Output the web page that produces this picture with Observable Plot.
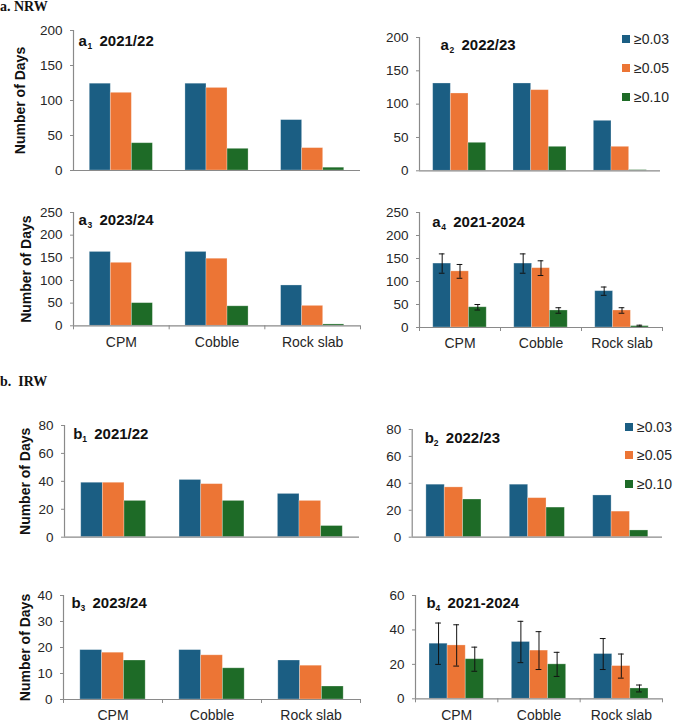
<!DOCTYPE html>
<html>
<head>
<meta charset="utf-8">
<script src="https://cdn.jsdelivr.net/npm/d3@7"></script>
<script src="https://cdn.jsdelivr.net/npm/@observablehq/plot@0.6"></script>
<style>
  body { margin: 0; background: #fff; }
  #fig { position: relative; width: 673px; height: 722px; overflow: hidden;
         font-family: "Liberation Sans", Arial, sans-serif; color: #262626; }
  .panel { position: absolute; }
  .section { position: absolute; left: 0; font-family: "Liberation Serif", "Times New Roman", serif;
             font-weight: bold; font-size: 14px; line-height: 14px; white-space: pre; color: #111; }
  .legend { position: absolute; font-size: 14px; }
  .legend .row { position: absolute; left: 0; height: 16px; white-space: nowrap; }
  .legend .sw { position: absolute; left: 0; top: 4px; width: 8px; height: 8px; }
  .legend .lab { position: absolute; left: 12px; top: 0; line-height: 16px; }
</style>
</head>
<body>
<div id="fig"></div>
<script>
// Substrate categories and wetness thresholds
const sites = ["CPM", "Cobble", "Rock slab"];
const thresholds = ["≥0.03", "≥0.05", "≥0.10"];
const colors = ["#1b5e83", "#ec7535", "#1e6b27"];

// NRW: number of days per site (rows) and threshold (columns)
const nrw2122 = [[124, 111, 39], [124, 118, 31], [72, 32, 4]];
const nrw2223 = [[131, 116, 42], [131, 121, 36], [75, 36, 1]];
const nrw2324 = [[163, 139, 50], [163, 148, 43], [89, 44, 3]];
const nrwMean = [[139, 122, 44], [139, 129, 37], [79, 37, 3]];
const nrwSd   = [[21, 15, 6], [21, 16, 6], [9, 6, 2]];

// IRW: number of days per site (rows) and threshold (columns)
const irw2122 = [[39, 39, 26], [41, 38, 26], [31, 26, 8]];
const irw2223 = [[39, 37, 28], [39, 29, 22], [31, 19, 5]];
const irw2324 = [[19, 18, 15], [19, 17, 12], [15, 13, 5]];
const irwMean = [[32, 31, 23], [33, 28, 20], [26, 19, 6]];
const irwSd   = [[12, 12, 7], [12, 11, 7], [9, 7, 2]];

// Y tick values per panel
const ticksA12 = [0, 50, 100, 150, 200];
const ticksA34 = [0, 50, 100, 150, 200, 250];
const ticksB12 = [0, 20, 40, 60, 80];
const ticksB3  = [0, 10, 20, 30, 40];
const ticksB4  = [0, 20, 40, 60];

// Panel labels
const panelLetters = ["a", "a", "a", "a", "b", "b", "b", "b"];
const panelNumbers = ["1", "2", "3", "4", "1", "2", "3", "4"];
const panelPeriods = ["2021/22", "2022/23", "2023/24", "2021-2024", "2021/22", "2022/23", "2023/24", "2021-2024"];
const sectionTitles = ["a. NRW", "b.  IRW"];
const yTitle = "Number of Days";

const AXIS = "#8a8a8a";
const BAR = 0.22;   // bar width in category units
const CAP = 0.035;  // half-width of error-bar caps in category units

const fig = document.getElementById("fig");

function rowsOf(values, sd) {
  const rows = [];
  values.forEach((r, ci) => r.forEach((v, ti) => rows.push({
    site: sites[ci], ci, thr: thresholds[ti], ti, value: v, sd: sd ? sd[ci][ti] : null
  })));
  return rows;
}

// layout of each panel: frame edges in page pixels and text offsets
const layout = [
  {L: 73,    R: 360, T: 30,    B: 170,   col: 0, bottom: false, ticks: ticksA12, tdx: 5,    tdy: 15,   ldx: -53},
  {L: 419,   R: 660, T: 36.7,  B: 170,   col: 1, bottom: false, ticks: ticksA12, tdx: 21,   tdy: 12.6},
  {L: 73,    R: 360, T: 211.7, B: 325,   col: 0, bottom: true,  ticks: ticksA34, tdx: 5,    tdy: 12.6, ldx: -47},
  {L: 419,   R: 662, T: 211.7, B: 326.7, col: 1, bottom: true,  ticks: ticksA34, tdx: 12.7, tdy: 14},
  {L: 64,    R: 359, T: 425,   B: 536.7, col: 0, bottom: false, ticks: ticksB12, tdx: 8.7,  tdy: 13.3, ldx: -39},
  {L: 411.7, R: 662, T: 429,   B: 536.7, col: 1, bottom: false, ticks: ticksB12, tdx: 12.6, tdy: 13.3},
  {L: 63,    R: 360, T: 595,   B: 699,   col: 0, bottom: true,  ticks: ticksB3,  tdx: 8,    tdy: 12.3, ldx: -38},
  {L: 415,   R: 662, T: 595,   B: 698.3, col: 1, bottom: true,  ticks: ticksB4,  tdx: 11,   tdy: 12.3}
];
const panelValues = [nrw2122, nrw2223, nrw2324, nrwMean, irw2122, irw2223, irw2324, irwMean];
const panelSd = [null, null, null, nrwSd, null, null, null, irwSd];

function drawPanel(i) {
  const p = layout[i];
  const rows = rowsOf(panelValues[i], panelSd[i]);
  const center = d => d.ci + 0.5 + (d.ti - 1) * BAR;
  const left = p.col === 0 ? 0 : 362;
  const mt = 10, mb = p.bottom ? 30 : 8, mr = 6;
  const ml = p.L - left;
  const width = p.R - left + mr;
  const height = p.B - p.T + mt + mb;

  const marks = [
    Plot.rect(rows, {
      x1: d => center(d) - BAR / 2, x2: d => center(d) + BAR / 2,
      y1: 0, y2: "value", fill: "thr",
      stroke: "#ffffff", strokeOpacity: 0.35, strokeWidth: 0.8
    })
  ];
  if (panelSd[i]) {
    marks.push(
      Plot.ruleX(rows, {x: center, y1: d => d.value - d.sd, y2: d => d.value + d.sd, stroke: "#111", strokeWidth: 1}),
      Plot.ruleY(rows, {y: d => d.value - d.sd, x1: d => center(d) - CAP, x2: d => center(d) + CAP, stroke: "#111", strokeWidth: 1}),
      Plot.ruleY(rows, {y: d => d.value + d.sd, x1: d => center(d) - CAP, x2: d => center(d) + CAP, stroke: "#111", strokeWidth: 1})
    );
  }
  marks.push(
    Plot.ruleY([0], {stroke: AXIS, strokeWidth: 1.2}),
    Plot.ruleX([0], {stroke: AXIS, strokeWidth: 1.2}),
    Plot.axisY({ticks: p.ticks, tickSize: 3, tickPadding: 8, stroke: AXIS, label: null, fontSize: 13.5})
  );
  if (p.bottom) {
    marks.push(
      Plot.axisX({ticks: [0, 1, 2, 3], tickSize: 4, tickFormat: () => "", stroke: AXIS, label: null}),
      Plot.axisX({ticks: [0.5, 1.5, 2.5], tickSize: 0, tickPadding: 11, tickFormat: v => sites[Math.floor(v)], label: null, fontSize: 14})
    );
  }
  // panel heading: letter, subscript number and period
  marks.push(
    Plot.text([panelLetters[i]], {frameAnchor: "top-left", dx: p.tdx, dy: p.tdy, lineAnchor: "bottom", textAnchor: "start", fontWeight: "bold", fontSize: 15, fill: "#111"}),
    Plot.text([panelNumbers[i]], {frameAnchor: "top-left", dx: p.tdx + 9, dy: p.tdy + 3, lineAnchor: "bottom", textAnchor: "start", fontWeight: "bold", fontSize: 8.5, fill: "#111"}),
    Plot.text([panelPeriods[i]], {frameAnchor: "top-left", dx: p.tdx + 21, dy: p.tdy, lineAnchor: "bottom", textAnchor: "start", fontWeight: "bold", fontSize: 15, fill: "#111"})
  );
  if (p.col === 0) {
    marks.push(Plot.text([yTitle], {frameAnchor: "left", dx: p.ldx, rotate: -90, textAnchor: "middle", lineAnchor: "middle", fontWeight: "bold", fontSize: 14, fill: "#111"}));
  }

  const chart = Plot.plot({
    width, height,
    marginLeft: ml, marginRight: mr, marginTop: mt, marginBottom: mb,
    x: {type: "linear", domain: [0, 3], axis: p.bottom ? undefined : null},
    y: {domain: [0, p.ticks[p.ticks.length - 1]], axis: null},
    color: {domain: thresholds, range: colors},
    style: {fontFamily: "'Liberation Sans', Arial, sans-serif", fontSize: "13.5px", color: "#262626", background: "transparent", overflow: "visible"},
    marks
  });
  chart.classList.add("panel");
  chart.style.left = left + "px";
  chart.style.top = (p.T - mt) + "px";
  fig.appendChild(chart);
}

for (let i = 0; i < layout.length; i++) drawPanel(i);

// section headings
const sectionTops = [0, 375];
sectionTitles.forEach((t, i) => {
  const d = document.createElement("div");
  d.className = "section";
  d.style.top = sectionTops[i] + "px";
  d.textContent = t;
  fig.appendChild(d);
});

// threshold legends beside the second panel of each section
const legendPos = [{x: 622, y: 39, step: 28.8}, {x: 625, y: 426.7, step: 28.7}];
legendPos.forEach(pos => {
  const lg = document.createElement("div");
  lg.className = "legend";
  lg.style.left = pos.x + "px";
  lg.style.top = (pos.y - 8) + "px";
  thresholds.forEach((t, k) => {
    const row = document.createElement("div");
    row.className = "row";
    row.style.top = (k * pos.step) + "px";
    const sw = document.createElement("div");
    sw.className = "sw";
    sw.style.background = colors[k];
    const lab = document.createElement("div");
    lab.className = "lab";
    lab.textContent = t;
    row.appendChild(sw);
    row.appendChild(lab);
    lg.appendChild(row);
  });
  fig.appendChild(lg);
});
</script>
</body>
</html>
